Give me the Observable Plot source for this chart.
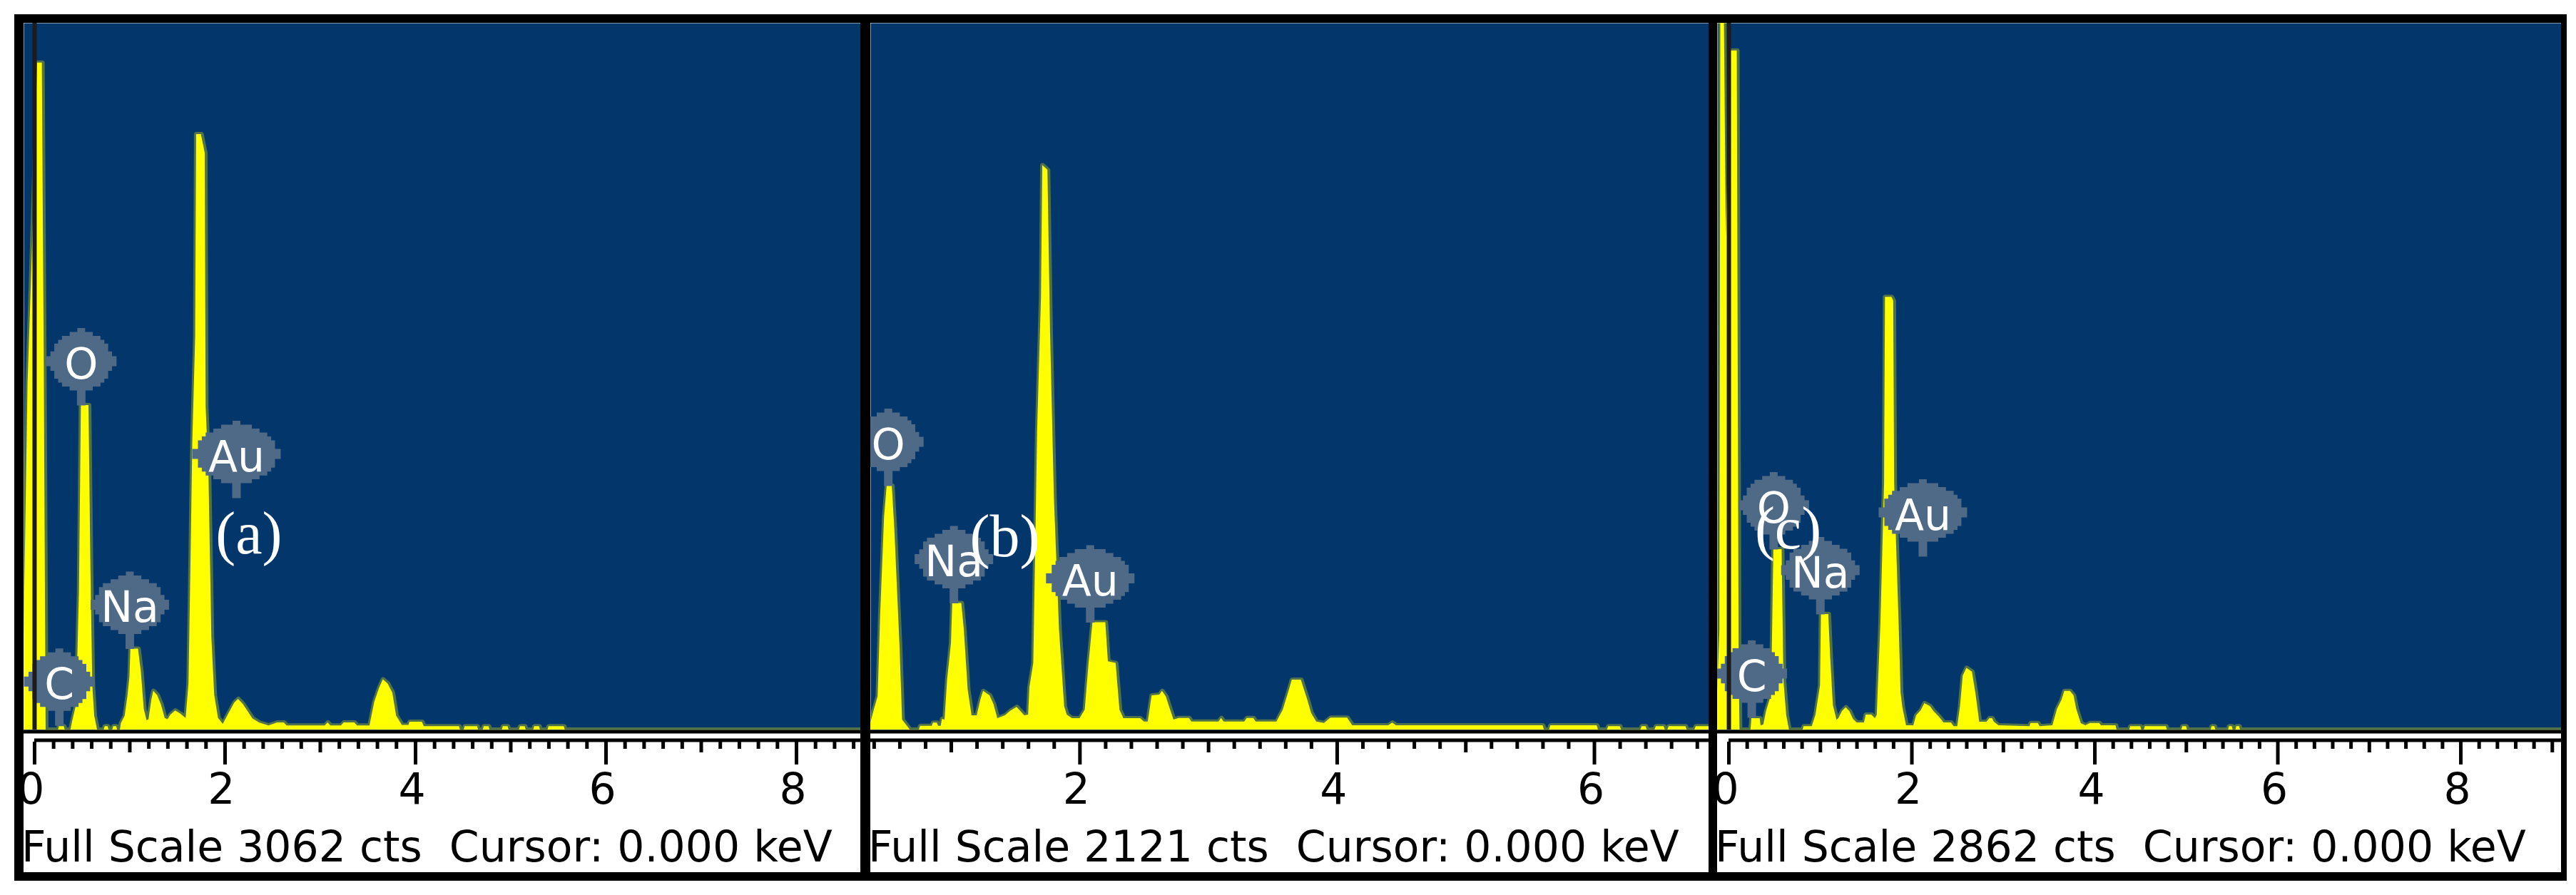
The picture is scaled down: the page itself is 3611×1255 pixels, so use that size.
<!DOCTYPE html>
<html>
<head>
<meta charset="utf-8">
<script src="https://cdn.jsdelivr.net/npm/d3@7"></script>
<script src="https://cdn.jsdelivr.net/npm/@observablehq/plot@0.6"></script>
<style>
  html, body { margin: 0; padding: 0; background: #ffffff; }
  #fig { position: absolute; left: 20px; top: 20px; width: 3578px; height: 1215px; background: #000; }
  .panel { position: absolute; top: 12px; height: 1191px; background: #fff; overflow: hidden; }
  .panel svg { display: block; }
  .status { position: relative; height: 83px; font-family: "DejaVu Sans", sans-serif; font-size: 60px; line-height: 60px; white-space: pre; color: #000; }
  .status span { position: absolute; left: -3px; top: 17px; }
</style>
</head>
<body>
<div id="fig"></div>
<script>
// ---------- DATA ----------
// spectrum points: [energy keV, counts]
const spectrumA = [
  [-0.112,400],[-0.07,1500],[-0.03,2000],[0,2400],[0.03,2890],[0.08,2890],[0.1,1600],[0.12,0],
  [0.25,0],[0.26,15],[0.31,15],[0.32,0],[0.38,0],[0.4,40],[0.44,110],[0.47,600],[0.49,1406],[0.57,1406],
  [0.59,700],[0.61,190],[0.63,60],[0.66,0],[0.73,0],[0.74,15],[0.77,15],[0.78,0],[0.82,0],[0.83,15],[0.86,15],
  [0.87,0],[0.9,0],[0.91,28],[0.95,60],[0.98,150],[1.0,230],[1.01,351],[1.09,351],[1.12,250],[1.15,90],
  [1.18,40],[1.2,45],[1.23,130],[1.25,168],[1.29,150],[1.33,110],[1.37,50],[1.4,45],[1.43,65],[1.48,83],
  [1.53,70],[1.59,50],[1.62,200],[1.64,700],[1.66,1250],[1.69,1700],[1.7,2580],[1.75,2580],[1.79,2500],
  [1.8,1400],[1.83,1100],[1.86,400],[1.89,150],[1.93,50],[1.98,25],[2.04,71],[2.1,117],[2.14,133],[2.19,111],
  [2.24,80],[2.29,49],[2.36,31],[2.46,18],[2.55,31],[2.62,31],[2.65,18],[3.05,18],[3.08,31],[3.11,18],
  [3.22,18],[3.25,31],[3.36,31],[3.39,18],[3.52,18],[3.57,120],[3.62,180],[3.66,218],[3.71,200],[3.76,160],
  [3.8,60],[3.86,20],[3.93,20],[3.94,34],[4.07,34],[4.09,15],[4.46,15],[4.47,0],[4.51,0],[4.52,15],[4.65,15],
  [4.66,0],[4.71,0],[4.72,15],[4.77,15],[4.78,0],[4.91,0],[4.92,15],[4.97,15],[4.98,0],[5.09,0],[5.1,15],
  [5.15,15],[5.16,0],[5.24,0],[5.25,15],[5.3,15],[5.31,0],[5.39,0],[5.4,15],[5.56,15],[5.57,0],[8.674,0]
];
const spectrumB = [
  [0.373,20],[0.4,60],[0.43,100],[0.45,350],[0.48,640],[0.5,732],[0.54,732],[0.56,600],[0.6,250],[0.62,30],
  [0.66,10],[0.68,0],[0.75,0],[0.76,11],[0.85,11],[0.86,21],[0.89,21],[0.9,11],[0.92,11],[0.93,32],[0.95,30],
  [0.97,150],[1.0,260],[1.01,380],[1.08,380],[1.1,300],[1.13,120],[1.16,43],[1.2,43],[1.23,92],[1.25,116],
  [1.3,103],[1.33,77],[1.36,34],[1.42,43],[1.46,56],[1.51,68],[1.57,43],[1.6,45],[1.61,128],[1.64,200],
  [1.67,900],[1.7,1300],[1.71,1694],[1.75,1680],[1.77,1200],[1.8,700],[1.84,300],[1.88,70],[1.9,45],[1.94,34],
  [2.0,34],[2.04,60],[2.07,200],[2.1,322],[2.2,322],[2.22,205],[2.28,200],[2.31,60],[2.34,34],[2.47,34],
  [2.5,24],[2.53,24],[2.56,103],[2.62,105],[2.64,116],[2.67,100],[2.7,64],[2.73,30],[2.77,35],[2.85,35],
  [2.87,24],[3.08,24],[3.1,35],[3.12,24],[3.28,24],[3.3,35],[3.35,35],[3.37,24],[3.53,24],[3.58,60],[3.62,110],
  [3.65,150],[3.72,150],[3.77,90],[3.8,50],[3.84,24],[3.9,20],[3.95,36],[4.08,36],[4.12,13],[4.4,13],[4.43,21],
  [4.46,13],[5.6,13],[5.61,0],[5.65,0],[5.66,13],[6.02,13],[6.03,0],[6.1,0],[6.11,10],[6.2,10],[6.21,0],
  [6.36,0],[6.37,10],[6.4,10],[6.41,0],[6.47,0],[6.48,10],[6.54,10],[6.55,0],[6.57,0],[6.58,10],[6.71,10],
  [6.72,0],[6.78,0],[6.79,10],[6.89,10]
];
const spectrumC = [
  [-0.125,150],[-0.1,400],[-0.09,2862],[-0.05,2862],[-0.03,2000],[0.02,2750],[0.09,2750],[0.11,300],[0.12,0],
  [0.24,0],[0.25,46],[0.34,46],[0.35,17],[0.38,20],[0.41,75],[0.45,124],[0.47,250],[0.49,731],[0.58,731],
  [0.6,200],[0.63,60],[0.66,0],[0.81,0],[0.82,14],[0.91,14],[0.95,60],[1.0,180],[1.01,468],[1.09,468],
  [1.11,300],[1.14,100],[1.18,40],[1.2,46],[1.24,75],[1.28,90],[1.32,75],[1.36,43],[1.4,29],[1.48,29],
  [1.5,61],[1.56,61],[1.6,46],[1.62,60],[1.66,430],[1.7,1000],[1.71,1752],[1.78,1752],[1.8,1737],[1.81,1000],
  [1.86,420],[1.88,150],[1.9,90],[1.94,17],[2.02,17],[2.05,58],[2.1,78],[2.14,107],[2.2,95],[2.24,75],
  [2.3,52],[2.35,29],[2.43,29],[2.46,14],[2.5,14],[2.53,95],[2.56,219],[2.6,250],[2.66,235],[2.7,144],
  [2.74,32],[2.82,32],[2.85,46],[2.88,46],[2.9,32],[2.95,17],[3.29,14],[3.3,27],[3.38,27],[3.4,14],[3.54,17],
  [3.59,84],[3.64,121],[3.67,157],[3.73,157],[3.77,139],[3.8,84],[3.85,26],[3.9,17],[3.95,27],[4.05,27],
  [4.07,17],[4.23,17],[4.24,0],[4.38,0],[4.39,14],[4.5,14],[4.51,0],[4.54,0],[4.55,14],[4.78,14],[4.79,0],
  [4.95,0],[4.96,14],[5.0,14],[5.01,0],[5.27,0],[5.28,14],[5.31,14],[5.32,0],[5.46,0],[5.47,14],[5.5,14],
  [5.51,0],[5.54,0],[5.55,14],[5.58,14],[5.59,0],[9.099,0]
];

// element labels: [element, energy keV, counts at stem tip]
const labelsA = [["C",0.26,18],["O",0.49,1406],["Na",1.0,351],["Au",2.12,1004]];
const labelsB = [["O",0.51,732],["Na",1.02,380],["Au",2.08,322]];
const labelsC = [["C",0.25,49],["O",0.49,731],["Na",1.0,468],["Au",2.12,702]];

// panel tags: [text, energy keV, counts]
const tagA = ["(a)", 2.25, 848];
const tagB = ["(b)", 1.416, 578];
const tagC = ["(c)", 0.647, 813];

const fullScale = [3062, 2121, 2862];
const keVDomainA = [-0.112, 8.674];
const keVDomainB = [0.373, 6.89];
const keVDomainC = [-0.125, 9.099];
const majorTicksA = [0, 2, 4, 6, 8], mediumTicksA = [1, 3, 5, 7];
const majorTicksB = [2, 4, 6],       mediumTicksB = [1, 3, 5];
const majorTicksC = [0, 2, 4, 6, 8], mediumTicksC = [1, 3, 5, 7, 9];
const cursorKeV = 0;

// ---------- STYLE ----------
const BLUE = "#03366A", YELLOW = "#FFFF00", LABEL = "#4E6A87", CURSOR = "#1C1C1C";
const PLOT_H = 991, FRAME_B = 1008, SVG_H = 1108;
const LABEL_RX = {C: 43.5, O: 43.5, Na: 49, Au: 56};

function labelSymbol(rx) {
  const ry = 41, s = 5.4, stemH = 21, stemW = 12, cy = -62;
  return {
    draw(ctx) {
      const n = Math.round(2 * ry / s);
      const rows = [];
      for (let i = 0; i < n; i++) {
        const y0 = cy - ry + i * 2 * ry / n, y1 = cy - ry + (i + 1) * 2 * ry / n;
        const t = ((y0 + y1) / 2 - cy) / ry;
        const hw = Math.max(s * 1.5, Math.round(rx * Math.sqrt(Math.max(0, 1 - t * t)) / s) * s);
        rows.push([y0, y1, hw]);
      }
      ctx.moveTo(rows[0][2], rows[0][0]);
      for (const [y0, y1, hw] of rows) { ctx.lineTo(hw, y0); ctx.lineTo(hw, y1); }
      for (let i = rows.length - 1; i >= 0; i--) { const [y0, y1, hw] = rows[i]; ctx.lineTo(-hw, y1); ctx.lineTo(-hw, y0); }
      ctx.closePath();
      const rect = (x0, y0, x1, y1) => { ctx.moveTo(x0, y0); ctx.lineTo(x1, y0); ctx.lineTo(x1, y1); ctx.lineTo(x0, y1); ctx.closePath(); };
      rect(-stemW / 2, cy + ry - 2, stemW / 2, 0);          // stem
      rect(-5.5, cy - ry - 5.5, 5.5, cy - ry + 2);           // top nub
      rect(-rx - 6, cy - 7, -rx + 2, cy + 7);                // left nub
      rect(rx - 2, cy - 7, rx + 6, cy + 7);                  // right nub
    }
  };
}

function drawPanel(p) {
  const spec = p.spectrum.map(([e, c]) => ({e, c}));
  const labels = p.labels.map(([el, e, c]) => ({el, e, c}));
  const [d0, d1] = p.domain;
  const minor = d3.range(Math.ceil(Math.max(0, d0) * 5), Math.floor(d1 * 5) + 1)
    .filter(k => k % 5 !== 0).map(k => k / 5);
  const elements = Array.from(new Set(labels.map(d => d.el)));
  return Plot.plot({
    width: p.width,
    height: SVG_H,
    marginTop: 0, marginLeft: 0, marginRight: 0, marginBottom: SVG_H - FRAME_B,
    style: {background: "transparent", overflow: "visible", fontFamily: "DejaVu Sans", fontSize: "60px", color: "black"},
    x: {domain: p.domain, range: [0, p.width], label: null},
    y: {domain: [0, p.fs], range: [PLOT_H, 0], axis: null, label: null},
    marks: [
      Plot.frame({fill: BLUE, stroke: "none", insetBottom: FRAME_B - PLOT_H}),
      Plot.lineY(spec, {x: "e", y: "c", stroke: YELLOW, strokeOpacity: 0.3, strokeWidth: 7, curve: "linear"}),
      Plot.areaY(spec, {x: "e", y: "c", fill: YELLOW, curve: "linear"}),
      Plot.ruleY([0], {stroke: "black", strokeWidth: 5, dy: 2.5}),
      Plot.ruleY([{y: 0, x1: Math.max(0, d0), x2: d1}], {y: "y", x1: "x1", x2: "x2", stroke: "black", strokeWidth: 5, dy: 14.5}),
      Plot.axisX(minor, {tickSize: 10, strokeWidth: 5, tickFormat: () => "", label: null}),
      Plot.axisX(p.medium, {tickSize: 15, strokeWidth: 5, tickFormat: () => "", label: null}),
      Plot.axisX(p.major, {tickSize: 32, strokeWidth: 5, tickFormat: () => "", label: null}),
      Plot.axisX(p.major, {tickSize: 0, tickPadding: 44, dx: -5, tickFormat: d => String(d), fontSize: 60, fontFamily: "DejaVu Sans", label: null}),
      ...elements.map(el => Plot.dot(labels.filter(d => d.el === el), {x: "e", y: "c", symbol: labelSymbol(LABEL_RX[el]), r: 10, fill: LABEL, stroke: "none"})),
      Plot.text(labels, {x: "e", y: "c", text: "el", fill: "white", fontSize: 60, fontFamily: "DejaVu Sans", dy: -57, lineAnchor: "middle"}),
      Plot.ruleX([cursorKeV], {stroke: CURSOR, strokeWidth: 6, insetBottom: FRAME_B - PLOT_H}),
      Plot.text([p.tag], {x: d => d[1], y: d => d[2], text: d => d[0], fill: "white", fontSize: 84, fontFamily: "Liberation Serif", lineAnchor: "middle"})
    ]
  });
}

const panels = [
  {left: 13,   width: 1173, spectrum: spectrumA, labels: labelsA, tag: tagA, fs: fullScale[0], domain: keVDomainA, major: majorTicksA, medium: mediumTicksA},
  {left: 1200, width: 1175, spectrum: spectrumB, labels: labelsB, tag: tagB, fs: fullScale[1], domain: keVDomainB, major: majorTicksB, medium: mediumTicksB},
  {left: 2387, width: 1183, spectrum: spectrumC, labels: labelsC, tag: tagC, fs: fullScale[2], domain: keVDomainC, major: majorTicksC, medium: mediumTicksC}
];

const fig = document.getElementById("fig");
for (const p of panels) {
  const div = document.createElement("div");
  div.className = "panel";
  div.style.left = p.left + "px";
  div.style.width = p.width + "px";
  div.appendChild(drawPanel(p));
  const st = document.createElement("div");
  st.className = "status";
  const span = document.createElement("span");
  span.textContent = `Full Scale ${p.fs} cts  Cursor: ${cursorKeV.toFixed(3)} keV`;
  st.appendChild(span);
  div.appendChild(st);
  fig.appendChild(div);
}
</script>
</body>
</html>
